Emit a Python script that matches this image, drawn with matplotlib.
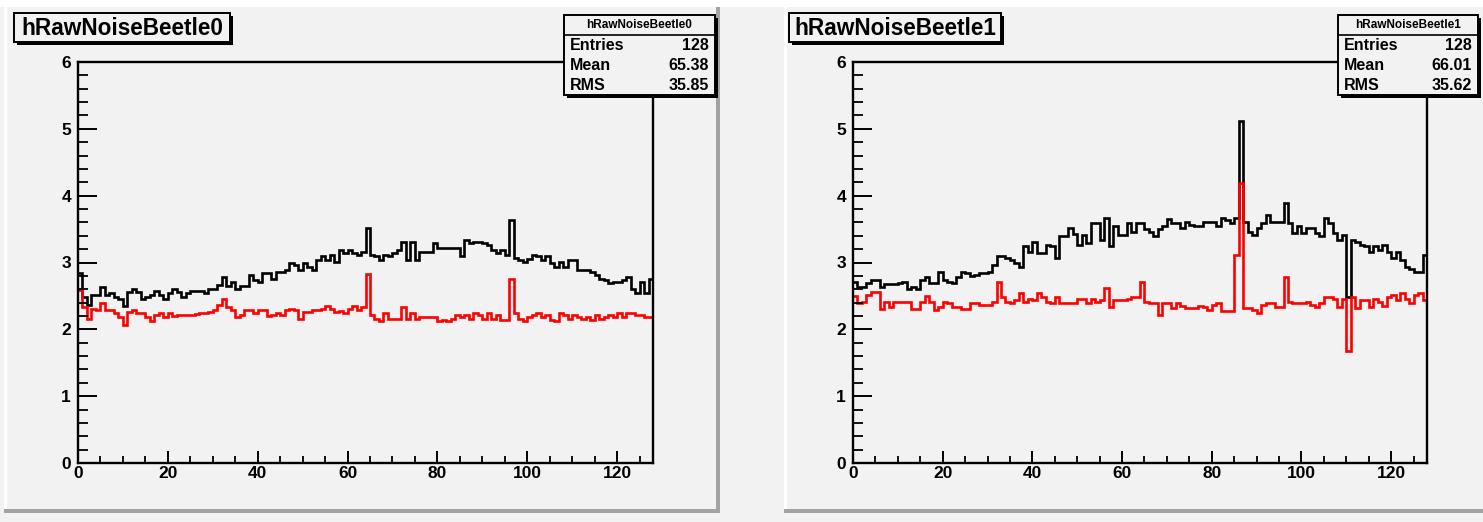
import numpy as np
import matplotlib
matplotlib.use("Agg")
import matplotlib.pyplot as plt
from matplotlib.patches import Rectangle
from matplotlib.ticker import MultipleLocator

# ---- data: raw noise per channel (128 channels per Beetle chip) ----
channels = np.arange(129)  # bin edges 0..128

black0 = [2.85, 2.49, 2.36, 2.51, 2.51, 2.63, 2.51, 2.54, 2.49, 2.46,
          2.35, 2.56, 2.61, 2.56, 2.45, 2.49, 2.51, 2.58, 2.51, 2.46,
          2.54, 2.61, 2.56, 2.49, 2.54, 2.58, 2.58, 2.58, 2.54, 2.61,
          2.61, 2.66, 2.78, 2.65, 2.71, 2.61, 2.65, 2.65, 2.81, 2.74,
          2.71, 2.84, 2.84, 2.76, 2.86, 2.86, 2.89, 2.99, 2.96, 2.89,
          2.99, 2.94, 2.89, 3.04, 3.09, 3.04, 3.11, 3.01, 3.19, 3.14,
          3.19, 3.14, 3.11, 3.16, 3.51, 3.11, 3.09, 3.04, 3.11, 3.09,
          3.14, 3.19, 3.30, 3.04, 3.30, 3.04, 3.16, 3.16, 3.16, 3.29,
          3.21, 3.21, 3.21, 3.21, 3.21, 3.09, 3.34, 3.29, 3.30, 3.30,
          3.29, 3.26, 3.19, 3.14, 3.19, 3.11, 3.63, 3.06, 3.04, 3.01,
          3.05, 3.11, 3.09, 3.03, 3.09, 2.99, 2.94, 3.01, 2.94, 3.04,
          3.04, 2.89, 2.89, 2.89, 2.86, 2.81, 2.76, 2.74, 2.69, 2.71,
          2.71, 2.74, 2.79, 2.60, 2.54, 2.71, 2.54, 2.76]

red0 = [2.59, 2.33, 2.16, 2.31, 2.29, 2.39, 2.29, 2.29, 2.25, 2.19,
        2.07, 2.26, 2.29, 2.24, 2.24, 2.19, 2.12, 2.21, 2.24, 2.18,
        2.24, 2.20, 2.21, 2.21, 2.21, 2.21, 2.23, 2.24, 2.24, 2.26,
        2.29, 2.36, 2.46, 2.34, 2.29, 2.18, 2.21, 2.29, 2.29, 2.24,
        2.29, 2.29, 2.20, 2.21, 2.24, 2.21, 2.29, 2.31, 2.29, 2.16,
        2.26, 2.26, 2.29, 2.29, 2.31, 2.35, 2.31, 2.26, 2.27, 2.24,
        2.31, 2.35, 2.29, 2.34, 2.83, 2.21, 2.16, 2.12, 2.24, 2.16,
        2.16, 2.16, 2.33, 2.16, 2.24, 2.16, 2.18, 2.18, 2.18, 2.18,
        2.12, 2.14, 2.12, 2.16, 2.21, 2.19, 2.21, 2.16, 2.24, 2.21,
        2.16, 2.25, 2.16, 2.21, 2.14, 2.14, 2.75, 2.24, 2.16, 2.12,
        2.19, 2.21, 2.24, 2.18, 2.21, 2.14, 2.12, 2.24, 2.21, 2.16,
        2.21, 2.19, 2.16, 2.19, 2.14, 2.21, 2.16, 2.19, 2.21, 2.18,
        2.24, 2.19, 2.24, 2.24, 2.21, 2.21, 2.18, 2.18]

black1 = [2.71, 2.64, 2.64, 2.69, 2.74, 2.74, 2.64, 2.68, 2.68, 2.68,
          2.69, 2.71, 2.61, 2.64, 2.61, 2.74, 2.79, 2.69, 2.69, 2.86,
          2.74, 2.71, 2.69, 2.79, 2.86, 2.84, 2.80, 2.81, 2.84, 2.84,
          2.86, 2.96, 3.09, 3.09, 3.06, 3.03, 2.99, 2.94, 3.24, 3.16,
          3.30, 3.14, 3.14, 3.26, 3.24, 3.06, 3.40, 3.40, 3.51, 3.43,
          3.26, 3.41, 3.29, 3.59, 3.59, 3.34, 3.66, 3.24, 3.54, 3.41,
          3.41, 3.59, 3.46, 3.59, 3.59, 3.50, 3.46, 3.39, 3.50, 3.54,
          3.65, 3.59, 3.59, 3.51, 3.61, 3.56, 3.54, 3.54, 3.61, 3.61,
          3.61, 3.54, 3.66, 3.64, 3.59, 3.66, 5.12, 3.61, 3.46, 3.41,
          3.51, 3.59, 3.71, 3.61, 3.61, 3.61, 3.89, 3.59, 3.44, 3.54,
          3.44, 3.51, 3.51, 3.44, 3.39, 3.66, 3.59, 3.44, 3.34, 3.41,
          2.49, 3.34, 3.31, 3.26, 3.24, 3.16, 3.24, 3.19, 3.26, 3.16,
          3.06, 3.16, 3.04, 2.94, 2.91, 2.86, 2.86, 3.11]

red1 = [2.50, 2.39, 2.41, 2.51, 2.56, 2.56, 2.31, 2.41, 2.34, 2.41,
        2.41, 2.41, 2.41, 2.31, 2.31, 2.41, 2.50, 2.41, 2.29, 2.34,
        2.41, 2.39, 2.34, 2.34, 2.31, 2.31, 2.39, 2.39, 2.36, 2.36,
        2.36, 2.41, 2.71, 2.49, 2.41, 2.40, 2.44, 2.54, 2.41, 2.46,
        2.44, 2.54, 2.49, 2.41, 2.39, 2.49, 2.39, 2.39, 2.39, 2.39,
        2.46, 2.46, 2.39, 2.46, 2.41, 2.44, 2.62, 2.34, 2.44, 2.44,
        2.44, 2.46, 2.49, 2.49, 2.71, 2.41, 2.39, 2.39, 2.22, 2.39,
        2.39, 2.32, 2.39, 2.35, 2.32, 2.32, 2.32, 2.35, 2.33, 2.29,
        2.37, 2.39, 2.28, 2.28, 2.28, 3.11, 4.19, 2.32, 2.32, 2.29,
        2.24, 2.37, 2.39, 2.39, 2.34, 2.34, 2.79, 2.41, 2.39, 2.39,
        2.39, 2.41, 2.37, 2.34, 2.39, 2.49, 2.49, 2.46, 2.34, 2.46,
        1.67, 2.49, 2.32, 2.44, 2.44, 2.34, 2.46, 2.41, 2.35, 2.49,
        2.51, 2.44, 2.54, 2.46, 2.39, 2.51, 2.54, 2.44]

titles = ["hRawNoiseBeetle0", "hRawNoiseBeetle1"]
stat_labels = ["Entries", "Mean", "RMS"]
stat_values = [["128", "65.38", "35.85"], ["128", "66.01", "35.62"]]

# ---- canvas ----
W, H = 1483, 522
DPI = 100
PAD_GRAY = "#f2f2f2"
SHADOW = "#a3a3a3"
FONT = "Liberation Sans"

fig = plt.figure(figsize=(W / DPI, H / DPI), dpi=DPI, facecolor=PAD_GRAY)

# pixel-space overlay for pads and boxes
bg = fig.add_axes([0, 0, 1, 1], zorder=0)
bg.set_xlim(0, W)
bg.set_ylim(H, 0)
bg.axis("off")
bg.set_facecolor("none")

fg = fig.add_axes([0, 0, 1, 1], zorder=10)
fg.set_xlim(0, W)
fg.set_ylim(H, 0)
fg.axis("off")
fg.set_facecolor("none")

# top white strip
bg.add_patch(Rectangle((0, 0), W, 7, fc="white", ec="none"))

pads = [(4, 7, 720, 513), (784, 7, 1490, 513)]
for (x0, y0, x1, y1) in pads:
    # bevelled pad: light top/left edge, dark bottom/right edge
    bg.add_patch(Rectangle((x0, y0), x1 - x0, y1 - y0, fc=PAD_GRAY, ec="none"))
    bg.add_patch(Rectangle((x0, y0), 3, y1 - y0, fc="white", ec="none"))
    bg.add_patch(Rectangle((x0, y1 - 4), x1 - x0, 4, fc=SHADOW, ec="none"))
    bg.add_patch(Rectangle((x1 - 4, y0), 4, y1 - y0, fc=SHADOW, ec="none"))


def px_axes(x0, x1, ytop, ybot):
    return [x0 / W, (H - ybot) / H, (x1 - x0) / W, (ybot - ytop) / H]


frames = [(78, 653, 62, 463), (853, 1427, 62, 463)]
series = [(black0, red0), (black1, red1)]
title_boxes = [(14, 13, 230, 42), (789, 13, 1001, 42)]
stat_boxes = [(564, 15, 715, 95), (1338, 15, 1478, 95)]

for k in range(2):
    ax = fig.add_axes(px_axes(*frames[k]), zorder=5)
    ax.set_facecolor(PAD_GRAY)
    blk, red = series[k]
    ax.stairs(blk, channels, baseline=None, color="black", lw=1.9)
    ax.stairs(red, channels, baseline=None, color="#ff0000", lw=1.9)
    ax.set_xlim(0, 128)
    ax.set_ylim(0, 6)
    for s in ax.spines.values():
        s.set_linewidth(1.7)
        s.set_color("black")
    ax.xaxis.set_major_locator(MultipleLocator(20))
    ax.xaxis.set_minor_locator(MultipleLocator(5))
    ax.yaxis.set_major_locator(MultipleLocator(1))
    ax.yaxis.set_minor_locator(MultipleLocator(0.2))
    ax.tick_params(axis="x", which="major", direction="in", length=9, width=1.4,
                   pad=2, top=False)
    ax.tick_params(axis="x", which="minor", direction="in", length=5, width=1.3,
                   top=False)
    ax.tick_params(axis="y", which="major", direction="in", length=14, width=1.4,
                   pad=5, right=False)
    ax.tick_params(axis="y", which="minor", direction="in", length=7.5, width=1.3,
                   right=False)
    for lab in ax.get_xticklabels() + ax.get_yticklabels():
        lab.set_fontfamily(FONT)
        lab.set_fontweight("bold")
        lab.set_fontsize(12.5)

    # title box with shadow
    x0, y0, x1, y1 = title_boxes[k]
    fg.add_patch(Rectangle((x0 + 3, y0 + 3), x1 - x0, y1 - y0, fc="black", ec="none"))
    fg.add_patch(Rectangle((x0, y0), x1 - x0, y1 - y0, fc=PAD_GRAY, ec="black", lw=1.4))
    fg.text((x0 + x1) / 2, (y0 + y1) / 2 + 1, titles[k], ha="center", va="center",
            fontsize=16.3, fontweight="bold", family=FONT)

    # statistics box with shadow
    x0, y0, x1, y1 = stat_boxes[k]
    fg.add_patch(Rectangle((x0 + 2.5, y0 + 2.5), x1 - x0, y1 - y0, fc="black", ec="none"))
    fg.add_patch(Rectangle((x0, y0), x1 - x0, y1 - y0, fc=PAD_GRAY, ec="black", lw=1.4))
    fg.plot([x0, x1], [y0 + 20, y0 + 20], color="black", lw=1.2)
    fg.text((x0 + x1) / 2, y0 + 10.5, titles[k], ha="center", va="center",
            fontsize=8.5, fontweight="bold", family=FONT)
    for r, (lab, val) in enumerate(zip(stat_labels, stat_values[k])):
        yy = y0 + 30 + r * 20.5
        fg.text(x0 + 6, yy, lab, ha="left", va="center", fontsize=11.5,
                fontweight="bold", family=FONT)
        fg.text(x1 - 6, yy, val, ha="right", va="center", fontsize=11.5,
                fontweight="bold", family=FONT)

fig.savefig("out.png", dpi=DPI, facecolor=PAD_GRAY)
